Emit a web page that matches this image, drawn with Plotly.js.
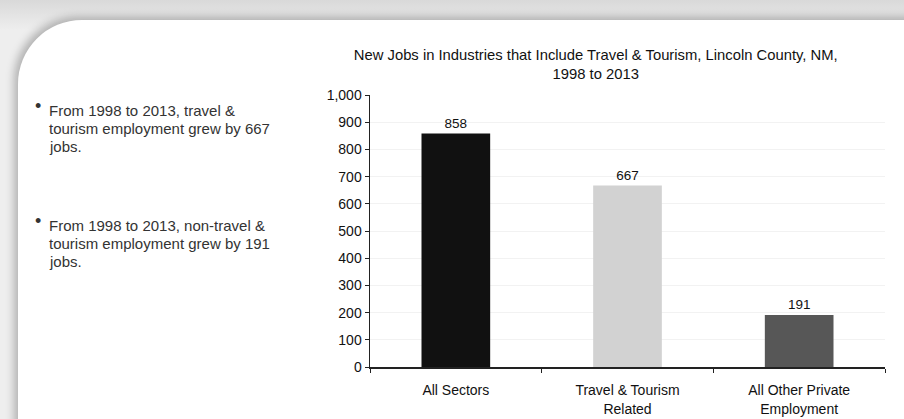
<!DOCTYPE html>
<html>
<head>
<meta charset="utf-8">
<script src="https://cdn.plot.ly/plotly-3.0.1.min.js"></script>
<style>
  html, body { margin:0; padding:0; width:904px; height:419px; overflow:hidden;
    background: linear-gradient(#d9d9d9, #eeeeee 30px); }
  #frame { position:absolute; left:18px; top:20px; width:1000px; height:500px;
    background:#ffffff; border-top-left-radius:64px;
    box-shadow: -4px -3px 8px rgba(0,0,0,0.25); }
  #chart { position:absolute; left:0; top:0; width:904px; height:419px; }
</style>
</head>
<body>
<div id="frame"></div>
<div id="chart"></div>
<script>
const categories = ["All Sectors", "Travel & Tourism<br>Related", "All Other Private<br>Employment"];
const values = [858, 667, 191];
const barColors = ["#111111", "#d2d2d2", "#575757"];
const yTickVals = [0, 100, 200, 300, 400, 500, 600, 700, 800, 900, 1000];
const yTickText = ["0", "100", "200", "300", "400", "500", "600", "700", "800", "900", "1,000"];
const bulletLines1 = ["From 1998 to 2013, travel &", "tourism employment grew by 667", "jobs."];
const bulletLines2 = ["From 1998 to 2013, non-travel &", "tourism employment grew by 191", "jobs."];

const font = "Liberation Sans, Arial, sans-serif";

const trace = {
  type: "bar",
  x: categories,
  y: values,
  width: 0.4,
  marker: { color: barColors, line: { width: 0 } },
  text: values.map(String),
  textposition: "outside",
  cliponaxis: false,
  textfont: { family: font, size: 13.5, color: "#111" },
  hoverinfo: "skip"
};

// plot area: x 370..885, y 95..367 (pixels)
const px = x => (x - 370) / 515;
const py = y => (367 - y) / 272;

const annotations = [];
function addBullet(lines, dotY, lineYs) {
  annotations.push({ xref: "paper", yref: "paper", x: px(33), y: py(dotY),
    xanchor: "left", yanchor: "middle", text: "•", showarrow: false,
    font: { family: font, size: 18, color: "#333" } });
  lines.forEach((t, i) => {
    annotations.push({ xref: "paper", yref: "paper", x: px(47), y: py(lineYs[i]),
      xanchor: "left", yanchor: "middle", align: "left", text: t, showarrow: false,
      font: { family: font, size: 15, color: "#333" } });
  });
}
addBullet(bulletLines1, 106, [110, 128, 146.5]);
addBullet(bulletLines2, 221, [225, 243, 261.5]);

const layout = {
  width: 904, height: 419,
  margin: { l: 370, r: 19, t: 95, b: 52 },
  paper_bgcolor: "rgba(0,0,0,0)",
  plot_bgcolor: "rgba(0,0,0,0)",
  showlegend: false,
  font: { family: font, size: 14, color: "#111" },
  title: {
    text: "New Jobs in Industries that Include Travel & Tourism, Lincoln County, NM,<br>1998 to 2013",
    font: { family: font, size: 14.8, color: "#111" },
    x: 0.659, xanchor: "center", y: 1 - 59.5 / 419, yanchor: "middle"
  },
  xaxis: {
    type: "category",
    range: [-0.5, 2.5],
    showline: true, linecolor: "#222", linewidth: 1.5,
    ticks: "outside", ticklen: 4, tickcolor: "#222", tickson: "boundaries",
    ticklabelstandoff: 10,
    tickfont: { family: font, size: 14, color: "#111" },
    showgrid: false, fixedrange: true
  },
  yaxis: {
    range: [0, 1000],
    tickvals: yTickVals, ticktext: yTickText,
    showline: true, linecolor: "#222", linewidth: 1.5,
    ticks: "outside", ticklen: 4, tickcolor: "#222",
    tickfont: { family: font, size: 14, color: "#111" },
    showgrid: true, gridcolor: "#f2f2f2", gridwidth: 1,
    zeroline: false, fixedrange: true
  },
  annotations: annotations
};

Plotly.newPlot("chart", [trace], layout, { displayModeBar: false, staticPlot: true });
</script>
</body>
</html>
